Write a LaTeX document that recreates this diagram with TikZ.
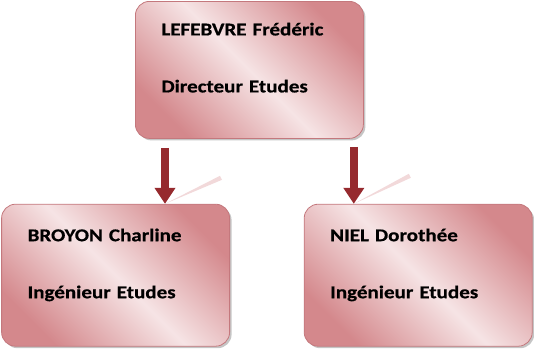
\documentclass[tikz,border=0pt]{standalone}
\usepackage{fontspec}
\setmainfont{Carlito}[FakeStretch=1.17,BoldFeatures={FakeBold=0.6}]
\usetikzlibrary{arrows.meta,positioning,shadows}
\definecolor{rosedark}{RGB}{212,136,140}
\definecolor{roselight}{RGB}{246,228,229}
\definecolor{roseline}{RGB}{196,120,125}
\definecolor{arrowred}{RGB}{150,42,46}

\begin{document}
\begin{tikzpicture}[x=1pt, y=-1pt, font=\bfseries\fontsize{18}{57}\selectfont]
      \tikzstyle{box}=[rectangle,rounded corners=14pt,draw=roseline,line width=0.8pt,
        left color=rosedark,right color=rosedark,middle color=roselight,shading angle=135,
        drop shadow={shadow xshift=2pt,shadow yshift=-2pt,fill=black!45,opacity=.5},
        align=left,text width=176pt,inner xsep=26pt,inner ysep=0pt,
        text height=37pt,text depth=105pt]
      \tikzstyle{flow}=[draw=arrowred,line width=8pt,-{Triangle[width=20pt,length=16pt]}]
      \tikzstyle{glare}=[fill=rosedark!45,opacity=.7]

      \useasboundingbox (0,0) rectangle (534,348);

      % boxes
      \node[box,anchor=north west,text height=34pt,text depth=103pt] (dir) at (135,1) {LEFEBVRE Frédéric\\Directeur Etudes};
      \node[box,below left=65pt and -95pt of dir] (broyon) {BROYON Charline\\Ingénieur Etudes};
      \node[box,below right=65pt and -60pt of dir] (niel) {NIEL Dorothée\\Ingénieur Etudes};

      % arrows
      \coordinate[below=9pt of dir.south west,xshift=30pt] (a1);
      \coordinate[below=8pt of dir.south east,xshift=-10pt] (a2);
      \coordinate (t1) at (a1 |- broyon.north);
      \coordinate (t2) at (a2 |- niel.north);
      \fill[glare] (t1) -- +(55,-28) -- +(57,-24) -- cycle;
      \fill[glare] (t2) -- +(55,-30) -- +(57,-26) -- cycle;
      \draw[flow] (a1) -- (t1);
      \draw[flow] (a2) -- (t2);
    \end{tikzpicture}
\end{document}
